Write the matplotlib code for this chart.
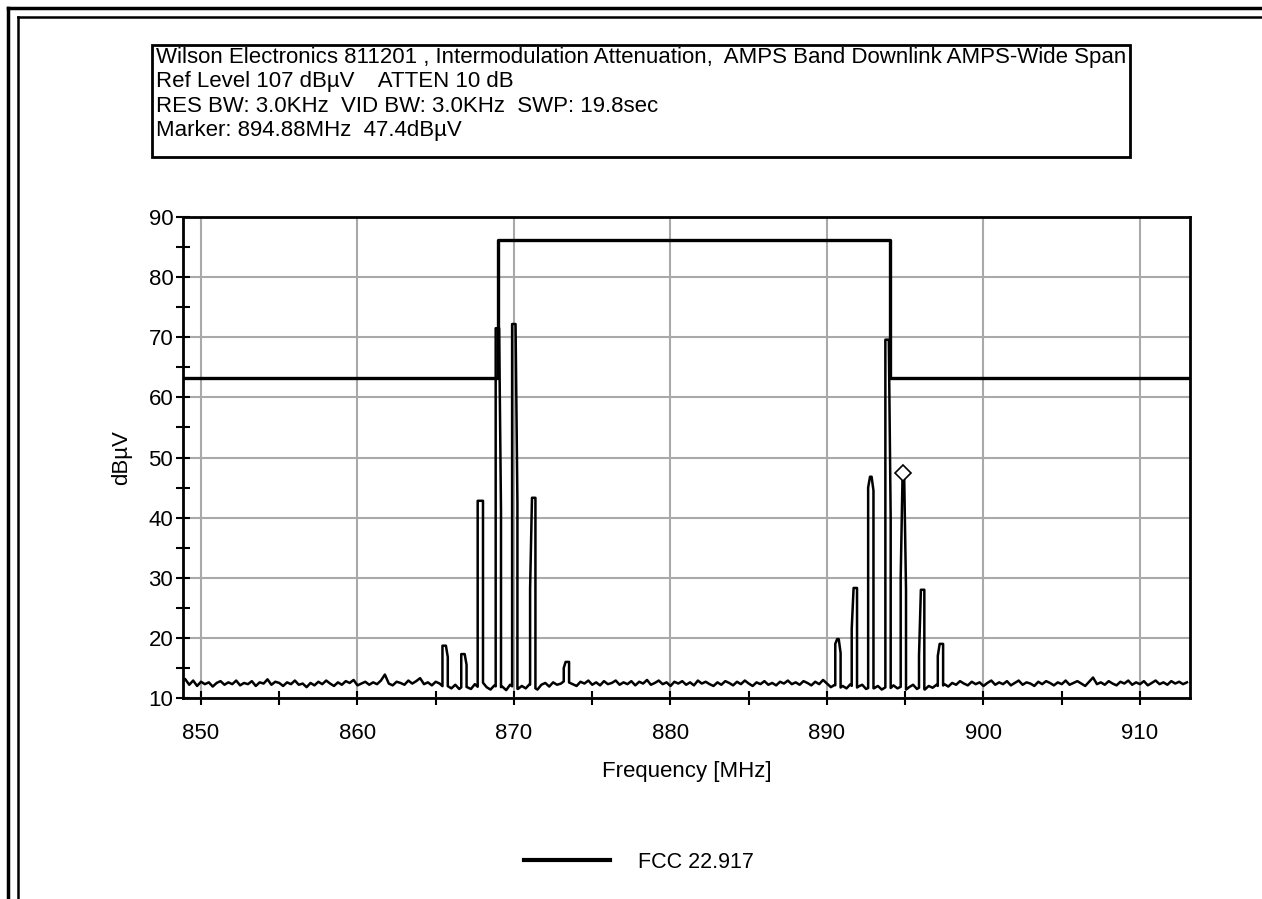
import numpy as np
import matplotlib.pyplot as plt
from matplotlib.lines import Line2D
from matplotlib.patches import Rectangle
from matplotlib.ticker import MultipleLocator

plt.rcParams['font.family'] = ['Liberation Sans', 'DejaVu Sans']

# Encabezado del analizador
header_lines = [
    "Wilson Electronics 811201 , Intermodulation Attenuation,  AMPS Band Downlink AMPS-Wide Span",
    "Ref Level 107 dB\u00b5V    ATTEN 10 dB",
    "RES BW: 3.0KHz  VID BW: 3.0KHz  SWP: 19.8sec",
    "Marker: 894.88MHz  47.4dB\u00b5V",
]

# Mascara FCC 22.917
mask_freq = [845.0, 869.0, 869.0, 894.0, 894.0, 916.0]
mask_level = [63.2, 63.2, 86.2, 86.2, 63.2, 63.2]

# Piso de ruido, cada 0.25 MHz desde 849 hasta 913
noise_start = 849.0
noise_step = 0.25
noise_level = [
    13.1, 12.2, 12.9, 12.0, 12.7, 12.3, 12.6, 11.9, 12.5, 12.8, 12.2, 12.6, 12.3, 12.9, 12.1, 12.5,
    12.3, 12.8, 12.0, 12.6, 12.4, 13.1, 12.2, 12.7, 12.5, 12.0, 12.6, 12.3, 12.9, 12.2, 12.4, 11.8,
    12.5, 12.1, 12.7, 12.3, 12.9, 12.4, 12.0, 12.6, 12.2, 12.8, 12.5, 13.0, 12.1, 12.4, 12.7, 12.2,
    12.6, 12.3, 12.9, 13.9, 12.4, 12.1, 12.7, 12.5, 12.2, 12.9, 12.4, 12.8, 13.3, 12.3, 12.6, 12.1,
    12.7, 12.4, 11.8, 12.0, 11.6, 12.2, 11.5, 12.0, 11.8, 11.5, 12.3, 11.7, 12.6, 11.8, 11.4, 12.1,
    11.6, 11.9, 11.3, 12.2, 11.7, 11.5, 12.0, 11.6, 12.3, 11.8, 11.4, 12.2, 12.5, 11.9, 12.6, 12.2,
    12.4, 12.9, 12.6, 12.3, 12.0, 12.7, 12.4, 12.9, 12.2, 12.6, 12.1, 12.8, 12.3, 12.5, 12.9, 12.2,
    12.6, 12.3, 12.8, 12.1, 12.7, 12.4, 13.0, 12.2, 12.5, 12.9, 12.3, 12.6, 12.0, 12.7, 12.4, 12.8,
    12.2, 12.6, 12.1, 12.9, 12.4, 12.7, 12.3, 12.0, 12.6, 12.2, 12.8, 12.5, 12.1, 12.7, 12.3, 12.9,
    12.4, 12.0, 12.6, 12.3, 12.8, 12.2, 12.5, 12.1, 12.7, 12.4, 12.9, 12.3, 12.6, 12.2, 12.8, 12.5,
    12.1, 12.7, 12.3, 13.0, 12.4, 11.8, 12.2, 11.5, 12.0, 11.6, 12.3, 11.4, 11.9, 12.2, 11.5, 11.8,
    11.6, 12.0, 11.4, 11.8, 11.5, 12.1, 11.6, 11.9, 11.3, 11.8, 12.2, 11.5, 11.9, 11.4, 12.0, 11.7,
    12.2, 11.6, 12.3, 11.9, 12.5, 12.2, 12.8, 12.4, 12.1, 12.7, 12.3, 12.6, 12.0, 12.5, 12.9, 12.2,
    12.6, 12.3, 12.8, 12.1, 12.5, 12.9, 12.2, 12.6, 12.4, 12.0, 12.7, 12.3, 12.8, 12.5, 12.1, 12.6,
    12.3, 12.9, 12.2, 12.5, 12.8, 12.4, 12.0, 12.7, 13.4, 12.3, 12.6, 12.2, 12.8, 12.4, 12.1, 12.7,
    12.4, 12.9, 12.2, 12.6, 12.3, 12.8, 12.1, 12.5, 12.9, 12.3, 12.6, 12.2, 12.8, 12.4, 12.7, 12.3,
    12.6,
]

# Portadoras y productos de intermodulacion: frecuencia, pico, flanco izq, flanco der
peak_freq = [865.6, 866.8, 867.85, 869.0, 870.05, 871.2, 873.35,
             890.7, 891.75, 892.8, 893.9, 894.88, 896.05, 897.25]
peak_top = [18.7, 17.3, 42.8, 71.5, 72.2, 43.3, 16.0,
            19.8, 28.3, 46.8, 69.6, 47.4, 28.0, 19.0]
peak_left = [18.7, 17.3, 42.8, 71.5, 72.2, 28.2, 15.0,
             19.0, 21.5, 45.0, 69.6, 30.0, 17.0, 17.0]
peak_right = [16.8, 15.5, 42.8, 41.2, 42.3, 43.3, 16.0,
              17.5, 28.3, 44.5, 39.8, 28.0, 28.0, 19.0]

marker_freq = 894.88
marker_level = 47.4

# armar la traza
noise_freq = noise_start + noise_step * np.arange(len(noise_level))
hw = 0.17
pts = []
for f, v in zip(noise_freq, noise_level):
    if all(abs(f - pf) > hw for pf in peak_freq):
        pts.append((f, 0, v))
for pf, top, lft, rgt in zip(peak_freq, peak_top, peak_left, peak_right):
    base_l = np.interp(pf - hw, noise_freq, noise_level)
    base_r = np.interp(pf + hw, noise_freq, noise_level)
    pts += [(pf - hw, 0, base_l), (pf - hw, 1, lft), (pf - 0.05, 2, top),
            (pf + 0.05, 3, top), (pf + hw, 4, rgt), (pf + hw, 5, base_r)]
pts.sort(key=lambda p: (p[0], p[1]))
trace_f = [p[0] for p in pts]
trace_v = [p[2] for p in pts]

fig = plt.figure(figsize=(12.62, 8.99), dpi=100)
ax = fig.add_axes([0.145, 0.2236, 0.798, 0.535])

ax.plot(trace_f, trace_v, color='black', lw=1.8, zorder=3)
mask_line, = ax.plot(mask_freq, mask_level, color='black', lw=2.4, zorder=4)
ax.plot([marker_freq], [marker_level], marker='D', ms=8, mfc='white',
        mec='black', mew=1.2, zorder=5)

ax.set_xlim(848.85, 913.2)
ax.set_ylim(10, 90)
ax.set_xticks(range(850, 911, 10))
ax.set_yticks(range(10, 91, 10))
ax.xaxis.set_minor_locator(MultipleLocator(5))
ax.yaxis.set_minor_locator(MultipleLocator(5))
ax.grid(True, which='major', color='#a9a9a9', lw=1.5)
ax.tick_params(which='both', direction='inout', length=10, width=1.5,
               labelsize=16, color='black')
ax.tick_params(axis='x', pad=13)
ax.tick_params(axis='y', pad=2)
for s in ax.spines.values():
    s.set_linewidth(2)

ax.set_xlabel('Frequency [MHz]', fontsize=16, labelpad=12)
ax.set_ylabel('dB\u00b5V', fontsize=16, labelpad=12)

# caja del encabezado
fig.patches.append(Rectangle((152 / 1262, 1 - 157 / 899), (1130 - 152) / 1262, 112 / 899,
                             transform=fig.transFigure, fill=False, lw=2, ec='black'))
for i, line in enumerate(header_lines):
    fig.text(156 / 1262, 1 - (57 + 24.5 * i) / 899, line, fontsize=16,
             va='center', ha='left')

# marco exterior
fig.add_artist(Line2D([8 / 1262, 1], [1 - 8 / 899] * 2, transform=fig.transFigure,
                      color='black', lw=2.5))
fig.add_artist(Line2D([8 / 1262] * 2, [0, 1 - 8 / 899], transform=fig.transFigure,
                      color='black', lw=2.5))
fig.add_artist(Line2D([18 / 1262, 1], [1 - 17 / 899] * 2, transform=fig.transFigure,
                      color='black', lw=1.8))
fig.add_artist(Line2D([18 / 1262] * 2, [0, 1 - 17 / 899], transform=fig.transFigure,
                      color='black', lw=1.8))

leg_handle = Line2D([], [], color='black', lw=3)
fig.legend([leg_handle], ['FCC 22.917'], loc='center', bbox_to_anchor=(0.506, 0.041),
           frameon=False, fontsize=15.5, handlelength=4, handletextpad=1.3)

fig.savefig('out.png', dpi=100)
